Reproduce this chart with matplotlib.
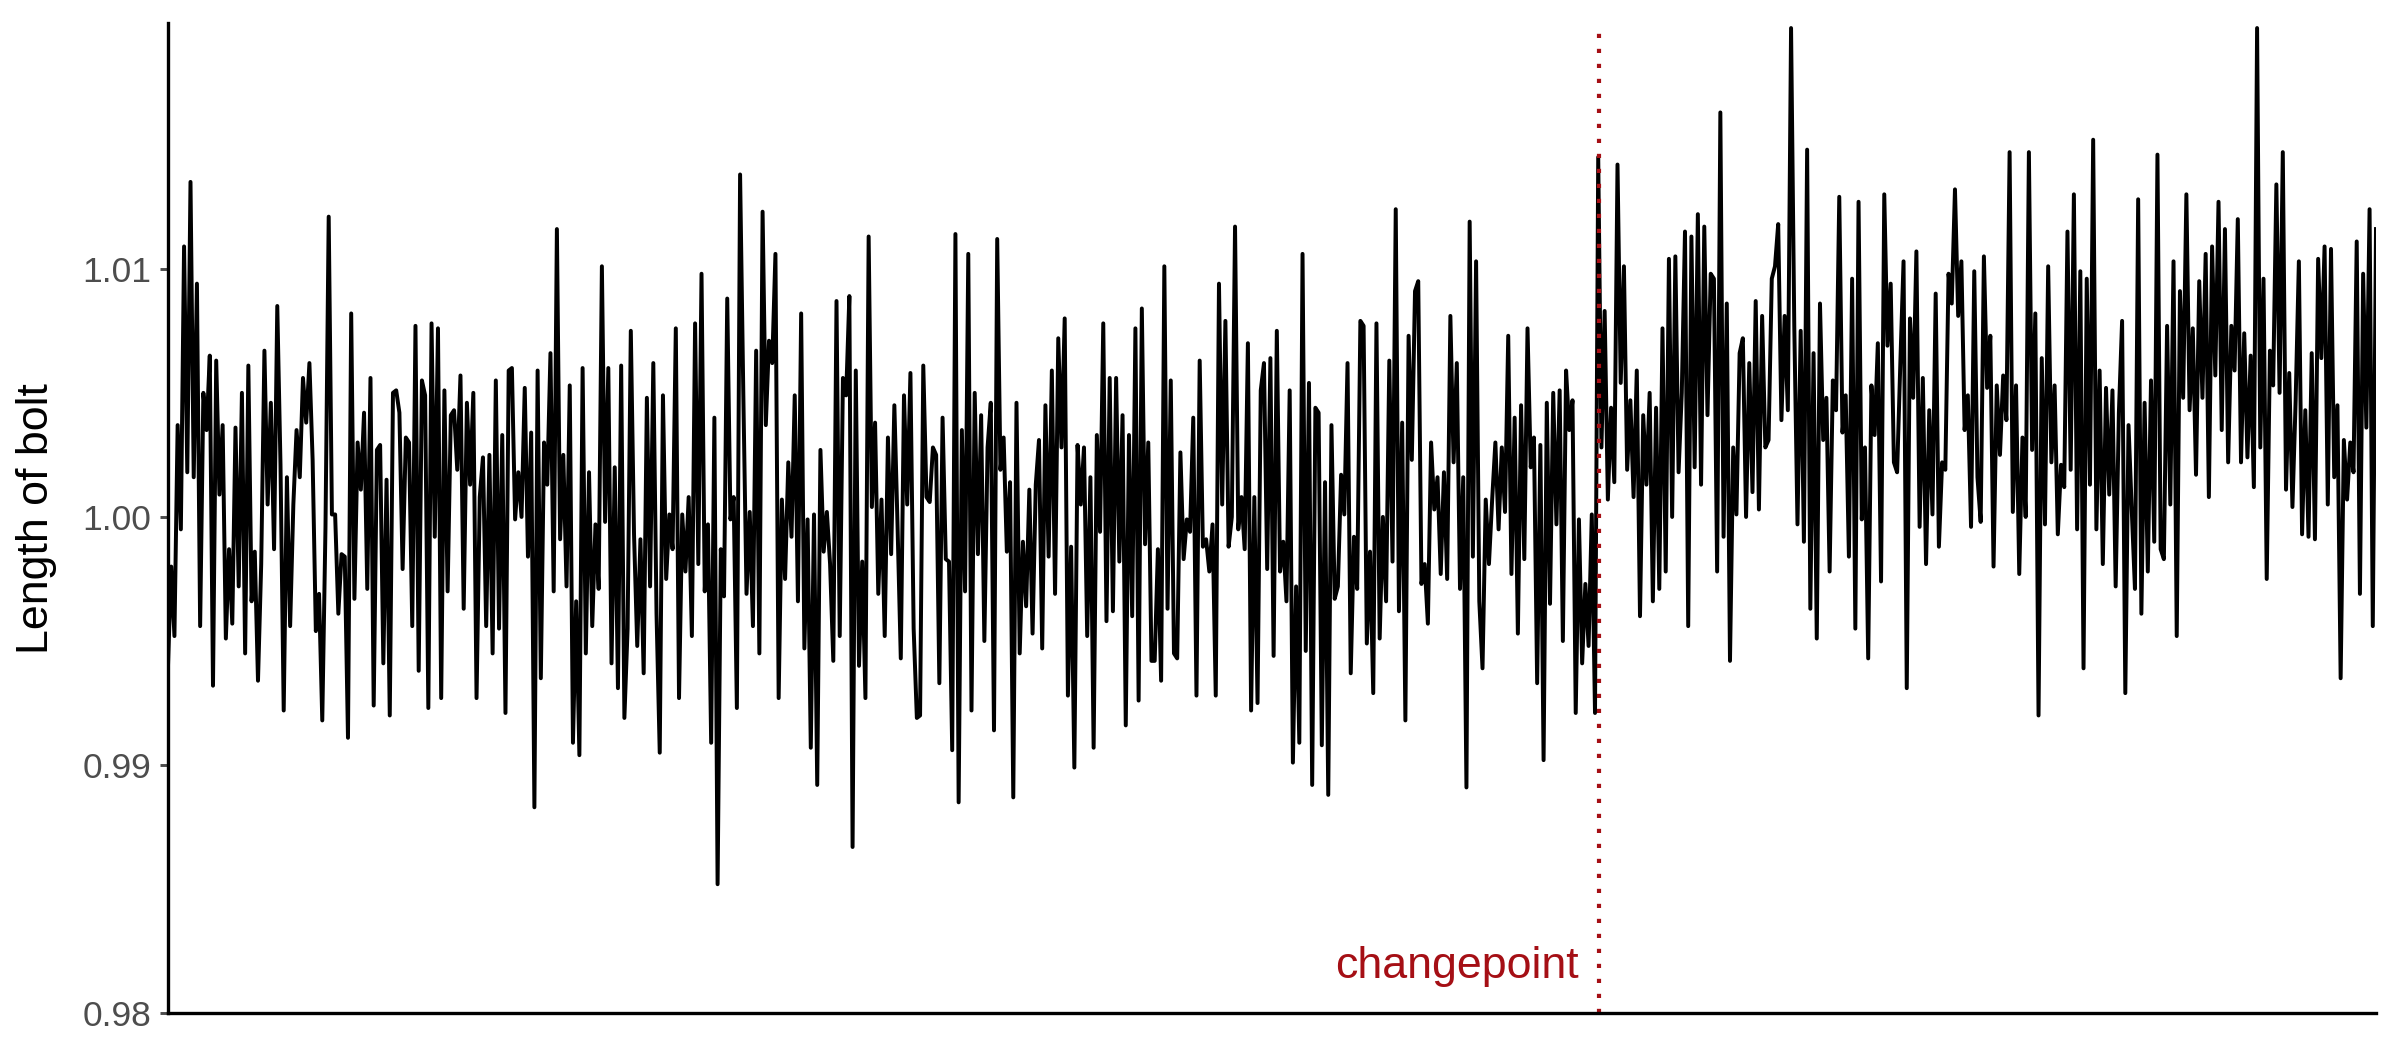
import matplotlib.pyplot as plt
import numpy as np

before_cp = [
    -6.0, -2.0, -4.8, 3.7, -0.5, 10.9, 1.8, 13.5, 1.6, 9.4, -4.4, 5.0, 3.5, 6.5, -6.8, 6.3, 0.9, 3.7, -4.9, -1.3,
    -4.3, 3.6, -2.8, 5.0, -5.5, 6.1, -3.4, -1.4, -6.6, -1.9, 6.7, 0.5, 4.6, -1.3, 8.5, 2.1, -7.8, 1.6, -4.4, 0.5,
    3.5, 1.6, 5.6, 3.8, 6.2, 2.3, -4.6, -3.1, -8.2, -0.4, 12.1, 0.1, 0.1, -3.9, -1.5, -1.6, -8.9,
    8.2, -3.3, 3.0, 1.1, 4.2, -2.9, 5.6, -7.6, 2.7, 2.9, -5.9, 1.5, -8.0, 5.0, 5.1, 4.2, -2.1, 3.2, 3.0, -4.4,
    7.7, -6.2, 5.5, 4.9, -7.7, 7.8, -0.8, 7.6, -7.3, 5.1, -3.0, 4.1, 4.3, 1.9, 5.7, -3.7, 4.6, 1.3, 5.0, -7.3,
    0.8, 2.4, -4.4, 2.5, -5.5, 5.5, -4.5, 3.3, -7.9, 5.9, 6.0, -0.1, 1.8, 0.0, 5.2, -1.6, 3.4, -11.7, 5.9, -6.5,
    3.0, 1.3, 6.6, -3.0,
    11.6, -0.9, 2.5, -2.8, 5.3, -9.1, -3.4, -9.6, 6.0, -5.5, 1.8, -4.4, -0.3, -2.9, 10.1, -0.2, 6.0, -5.9, 2.0, -6.9,
    6.1, -8.1, -4.5, 7.5, -0.7, -5.2, -0.9, -6.3, 4.8, -2.8, 6.2, -3.9, -9.5, 4.9, -2.5, 0.1, -1.3, 7.6, -7.3, 0.1,
    -2.2, 0.8, -4.8, 7.8, -1.9, 9.8, -3.0, -0.3, -9.1, 4.0, -14.8, -1.3, -3.2, 8.8, -0.1, 0.8, -7.7, 13.8, 5.0, -3.1,
    0.2, -4.4, 6.7,
    -5.5, 12.3, 3.7, 7.1, 6.2, 10.6, -7.3, 0.7, -2.5, 2.2, -0.8, 4.9, -3.4, 8.2, -5.3, -0.1, -9.3, 0.1, -10.8, 2.7,
    -1.4, 0.2, -1.9, -5.8, 8.7, -4.8, 5.6, 4.9, 8.9, -13.3, 5.9, -6.0, -1.8, -7.3, 11.3, 0.4, 3.8, -3.1, 0.7, -4.8,
    3.2, -1.5, 4.5, -0.4, -5.7, 4.9, 0.5, 5.8, -4.5, -8.1, -8.0, 6.1, 0.8, 0.6, 2.8, 2.5, -6.7, 4.0, -1.7, -1.8,
    -9.4, 11.4,
    -11.5, 3.5, -3.0, 10.6, -7.8, 5.0, -1.5, 4.1, -5.0, 2.8, 4.6, -8.6, 11.2, 1.9, 3.2, -1.4, 1.4, -11.3, 4.6, -5.5,
    -1.0, -3.6, 1.1, -4.7, 1.3, 3.1, -5.3, 4.5, -1.6, 5.9, -3.1, 7.2, 2.8, 8.0, -7.2, -1.2, -10.1, 2.9, 0.5, 2.8,
    -4.8, 1.6, -9.3, 3.3, -0.6, 7.8, -4.2, 5.6, -3.8, 5.6, -1.8, 4.1, -8.4, 3.3, -4.0, 7.6, -7.4, 8.4, -1.1, 3.0,
    -5.8, -5.8, -1.3, -6.6,
    10.1, -3.7, 5.5, -5.5, -5.7, 2.6, -1.7, -0.1, -0.6, 4.0, -7.2, 6.3, -1.2, -0.9, -2.2, -0.3, -7.2, 9.4, 0.5, 7.9,
    -1.2, 0.0, 11.7, -0.5, 0.8, -1.3, 7.0, -7.8, 0.8, -7.5, 5.1, 6.2, -2.1, 6.4, -5.6, 7.5, -2.2, -1.0, -3.4, 5.1,
    -9.9, -2.8, -9.1, 10.6, -5.4, 5.4, -10.8, 4.4, 4.2, -9.2, 1.4, -11.2, 3.7, -3.3, -2.8, 1.7, 0.1, 6.2, -6.3, -0.8,
    -2.9,
    7.9, 7.7, -5.1, -1.4, -7.1, 7.8, -4.9, 0.0, -3.4, 6.3, -1.8, 12.4, -3.8, 3.8, -8.2, 7.3, 2.3, 9.1, 9.5, -2.7,
    -1.9, -4.3, 3.0, 0.3, 1.6, -2.3, 1.8, -2.5, 8.1, 2.2, 6.2, -2.9, 1.6, -10.9, 11.9, -1.6, 10.3, -3.4, -6.1, 0.7,
    -1.9, 0.7, 3.0, -0.5, 2.8, 0.2, 7.3, -2.3, 4.0, -4.7, 4.5, -1.7, 7.6, 2.0, 3.2, -6.7, 2.9, -9.8, 4.6, -3.5,
    5.0, -0.3, 5.1, -5.0, 5.9, 3.5, 4.7, -7.9, -0.1, -5.9, -2.7, -5.2, 0.1, -7.9,
]

after_cp = [
    14.5, 2.8, 8.3, 0.7, 4.4, 1.4, 14.2, 5.4, 10.1, 1.9, 4.7, 0.8, 5.9, -4.0, 4.1, 1.3, 5.0, -3.4, 4.4, -2.9,
    7.6, -2.2, 10.4, 0.0, 10.5, 1.8, 5.0, 11.5, -4.4, 11.3, 2.0, 12.2, 1.3, 11.7, 4.1, 9.8, 9.6, -2.2, 16.3, -0.8,
    8.6, -5.8, 2.8, 0.1, 6.6, 7.2, 0.0, 6.2,
    1.0, 8.7, 0.3, 8.1, 2.8, 3.1, 9.6, 10.1, 11.8, 3.9, 8.1, 4.3, 19.7, 7.7, -0.3, 7.5, -1.0, 14.8, -3.7, 6.6,
    -4.9, 8.6, 3.1, 4.8, -2.2, 5.5, 4.3, 12.9, 3.4, 4.9, -1.6, 9.6, -4.5, 12.7, -0.1, 2.8, -5.7, 5.3, 3.3, 7.0,
    -2.6, 13.0, 6.9, 9.4, 2.2, 1.8, 6.2, 10.3, -6.9, 8.0, 4.8, 10.7, -0.4, 5.6, -1.9, 4.3, 0.1, 9.0, -1.2, 2.2,
    1.9, 9.8, 8.6, 13.2,
    8.1, 10.3, 3.5, 4.9, -0.4, 9.9, 1.6, -0.2, 10.5, 5.2, 7.3, -2.0, 5.3, 2.5, 5.7, 3.9, 14.7, 0.2, 5.3, -2.3,
    3.2, 0.0, 14.7, 2.7, 8.2, -8.0, 6.4, -0.3, 10.1, 2.2, 5.3, -0.7, 2.1, 1.2, 11.5, 1.9, 13.0, -0.5, 9.9, -6.1,
    9.6, 1.3, 15.2, -0.5, 5.9, -1.9, 5.2, 0.9, 5.1, -2.8, 4.2, 7.9, -7.1, 3.7, 0.3, -2.9, 12.8, -3.9, 4.6, -2.2,
    5.5,
    -1.0, 14.6, -1.3, -1.7, 7.7, 0.5, 10.3, -4.8, 9.1, 4.8, 13.0, 4.3, 7.6, 1.7, 9.5, 4.8, 10.6, 0.8, 10.9, 5.7,
    12.7, 3.5, 11.6, 2.2, 7.7, 5.9, 12.0, 2.2, 7.4, 2.4, 6.5, 1.2, 19.7, 2.8, 9.6, -2.5, 6.7, 5.3, 13.4, 5.0,
    14.7, 1.1, 5.8, 0.4, 4.7, 10.3, -0.7, 4.3, -0.8, 6.6, -0.9, 10.4, 6.4, 10.9, 0.5, 10.8, 1.6, 4.5, -6.5, 3.1,
    0.7, 3.0, 1.8, 11.1, -3.1, 9.8, 3.6, 12.4, -4.4, 11.6,
]

nominal = 1.0
y_ticks = [0.98, 0.99, 1.00, 1.01]
y_tick_labels = ["0.98", "0.99", "1.00", "1.01"]

length = nominal + np.array(before_cp + after_cp) / 1000
t = np.arange(len(length))
changepoint = len(before_cp) + 0.3

red = "#A50F15"

plt.rcParams['font.family'] = ['Liberation Sans', 'DejaVu Sans']

fig = plt.figure(figsize=(16, 7), dpi=150)
ax = fig.add_axes([0.070, 0.035, 0.920, 0.943])

ax.plot(t, length, color="black", lw=1.9)
ax.axvline(changepoint, color=red, lw=2.0, dashes=(1, 2.6), dash_capstyle="butt")
ax.annotate("changepoint", xy=(changepoint, 0.9819), xytext=(-10, 0), textcoords="offset points",
            ha="right", va="center", color=red, fontsize=21.5)

ax.set_xlim(0, len(length) - 1)
ax.set_ylim(0.98, 1.0199)
ax.set_yticks(y_ticks)
ax.set_yticklabels(y_tick_labels)
ax.set_xticks([])
ax.set_ylabel("Length of bolt", fontsize=21.5, labelpad=12)
ax.tick_params(axis="y", labelsize=17, colors="#4D4D4D", length=4, width=1.4, pad=4)
for lab in ax.get_yticklabels():
    lab.set_color("#4D4D4D")
ax.spines["top"].set_visible(False)
ax.spines["right"].set_visible(False)
ax.spines["left"].set_linewidth(1.6)
ax.spines["bottom"].set_linewidth(1.6)

plt.savefig("out.png", dpi=150)
